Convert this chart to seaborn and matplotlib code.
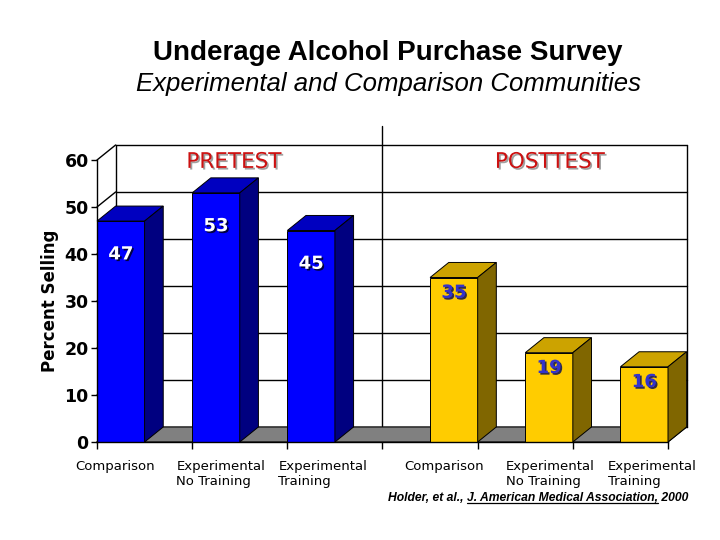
import matplotlib
matplotlib.use("Agg")
import numpy as np
import pandas as pd
import matplotlib.pyplot as plt
import matplotlib.patheffects as pe
import matplotlib.transforms as mtransforms
from matplotlib.patches import Polygon
import seaborn as sns

# chart data
groups = ["pre_comp", "pre_exp_no", "pre_exp_tr", "post_comp", "post_exp_no", "post_exp_tr"]
group_labels = ["Comparison", "Experimental\nNo Training", "Experimental\nTraining",
                "Comparison", "Experimental\nNo Training", "Experimental\nTraining"]
phase = ["PRETEST", "PRETEST", "PRETEST", "POSTTEST", "POSTTEST", "POSTTEST"]
pct_selling = [47, 53, 45, 35, 19, 16]

df = pd.DataFrame({"group": groups, "phase": phase, "pct": pct_selling})

sns.set_style("white")
plt.rcParams["font.family"] = ["DejaVu Sans"]
plt.rcParams["text.color"] = "black"
plt.rcParams["axes.labelcolor"] = "black"
plt.rcParams["xtick.color"] = "black"
plt.rcParams["ytick.color"] = "black"

fig = plt.figure(figsize=(7.2, 5.4), dpi=100)
ax = fig.add_axes([97 / 720, 98 / 540, 571 / 720, 282 / 540])

front = {"PRETEST": "#0000FF", "POSTTEST": "#FFCC00"}
top_col = {"PRETEST": "#0000C0", "POSTTEST": "#CCA300"}
side_col = {"PRETEST": "#000080", "POSTTEST": "#806600"}

sns.barplot(data=df, x="group", y="pct", hue="phase", order=groups,
            hue_order=["PRETEST", "POSTTEST"], palette=front, width=1.0, dodge=True,
            saturation=1, edgecolor="black", linewidth=0.7, legend=False,
            zorder=3, ax=ax)

ax.set_xlim(-0.5, 5.5)
ax.set_ylim(0, 60)
DX, DY = 0.196, 3.2  # depth of the 3d box

# back wall grid and left wall diagonals
for y in range(0, 61, 10):
    ax.plot([-0.5 + DX, 5.5 + DX], [y + DY, y + DY], color="black", lw=1, zorder=0.5, clip_on=False)
    ax.plot([-0.5, -0.5 + DX], [y, y + DY], color="black", lw=1, zorder=0.5, clip_on=False)
for xe in [-0.5 + DX, 5.5 + DX]:
    ax.plot([xe, xe], [DY, 60 + DY], color="black", lw=1, zorder=0.5, clip_on=False)

# floor
floor = Polygon([(-0.5, 0), (5.5, 0), (5.5 + DX, DY), (-0.5 + DX, DY)], closed=True,
                facecolor="#808080", edgecolor="black", lw=0.8, zorder=1, clip_on=False)
ax.add_patch(floor)

# divider between pretest and posttest
ax.plot([2.5, 2.5], [3.4, 67.2], color="black", lw=1, zorder=0.6, clip_on=False)

# 3d faces + value labels
for bar in list(ax.patches):
    if bar is floor:
        continue
    h = bar.get_height()
    if not np.isfinite(h) or h == 0:
        continue
    x0, w = bar.get_x(), bar.get_width()
    fc = matplotlib.colors.to_hex(bar.get_facecolor()).upper()
    ph = "PRETEST" if fc == front["PRETEST"] else "POSTTEST"
    top = Polygon([(x0, h), (x0 + w, h), (x0 + w + DX, h + DY), (x0 + DX, h + DY)],
                  facecolor=top_col[ph], edgecolor="black", lw=0.7, zorder=3, clip_on=False)
    side = Polygon([(x0 + w, 0), (x0 + w + DX, DY), (x0 + w + DX, h + DY), (x0 + w, h)],
                   facecolor=side_col[ph], edgecolor="black", lw=0.7, zorder=3, clip_on=False)
    ax.add_patch(top)
    ax.add_patch(side)
    if ph == "PRETEST":
        ax.annotate(f"{h:.0f}", (x0 + w / 2, h), xytext=(0, -24), textcoords="offset points",
                    ha="center", va="center", fontsize=13, fontweight="bold", color="white",
                    zorder=5, path_effects=[pe.withSimplePatchShadow(offset=(1.2, -1.2),
                                                                     shadow_rgbFace="#000040", alpha=1)])
    else:
        ax.annotate(f"{h:.0f}", (x0 + w / 2, h), xytext=(0, -11), textcoords="offset points",
                    ha="center", va="center", fontsize=13, fontweight="bold", color="#3333CC",
                    zorder=5, path_effects=[pe.withSimplePatchShadow(offset=(1.2, -1.2),
                                                                     shadow_rgbFace="#1A1A4D", alpha=0.9)])

# axes styling
for s in ["top", "right"]:
    ax.spines[s].set_visible(False)
for s in ["left", "bottom"]:
    ax.spines[s].set_linewidth(1)
    ax.spines[s].set_color("black")
    ax.spines[s].set_zorder(4)
ax.set_yticks(range(0, 61, 10))
ax.set_yticklabels([str(v) for v in range(0, 61, 10)], fontsize=12.5, fontweight="bold")
ax.set_xticks(np.arange(-0.5, 6, 1))
ax.set_xticklabels([])
ax.set_xticks(range(6), minor=True)
ax.set_xticklabels(group_labels, minor=True, fontsize=9.5, multialignment="left", va="top")
ax.tick_params(axis="y", which="major", length=4, width=1, direction="out", left=True, pad=2)
ax.tick_params(axis="x", which="major", length=5, width=1, direction="out", bottom=True)
ax.tick_params(axis="x", which="minor", length=0, pad=13)
ax.set_xlabel("")
ax.set_ylabel("Percent Selling", fontsize=12, fontweight="bold", labelpad=4)

# the slide's labels drift outward from the slot centres
label_shift = [-30, -19, -12, 14, 25, 32]
for lab, dx_px in zip(ax.get_xticklabels(minor=True), label_shift):
    lab.set_transform(lab.get_transform() + mtransforms.ScaledTranslation(dx_px / 100, 0, fig.dpi_scale_trans))

# phase headers
for name, xpos in [("PRETEST", 0.94), ("POSTTEST", 4.26)]:
    ax.text(xpos, 59.6, name, ha="center", va="center", fontsize=15.5, color="#CC1111",
            zorder=5, path_effects=[pe.withSimplePatchShadow(offset=(1.2, -1.2),
                                                             shadow_rgbFace="#888888", alpha=0.8)])

fig.text(388 / 720, 1 - 53 / 540, "Underage Alcohol Purchase Survey", ha="center", va="center",
         fontsize=20, fontweight="bold", family="Liberation Sans")
fig.text(388 / 720, 1 - 84 / 540, "Experimental and Comparison Communities", ha="center", va="center",
         fontsize=18.5, style="italic", family="Liberation Sans")

# citation with underlined journal name
fig.canvas.draw()
renderer = fig.canvas.get_renderer()
cite_parts = ["Holder, et al., ", "J. American Medical Association,", " 2000"]
xpos = 388 / 720
ypos = 1 - 501 / 540
for i, part in enumerate(cite_parts):
    t = fig.text(xpos, ypos, part, ha="left", va="baseline", fontsize=8.7, fontweight="bold",
                 style="italic", family="Liberation Sans")
    bb = t.get_window_extent(renderer=renderer).transformed(fig.transFigure.inverted())
    if i == 1:
        fig.add_artist(plt.Line2D([bb.x0, bb.x1], [ypos - 0.004, ypos - 0.004],
                                  transform=fig.transFigure, color="black", lw=0.9))
    xpos = bb.x1

fig.savefig("out.png", dpi=100, facecolor="white")
